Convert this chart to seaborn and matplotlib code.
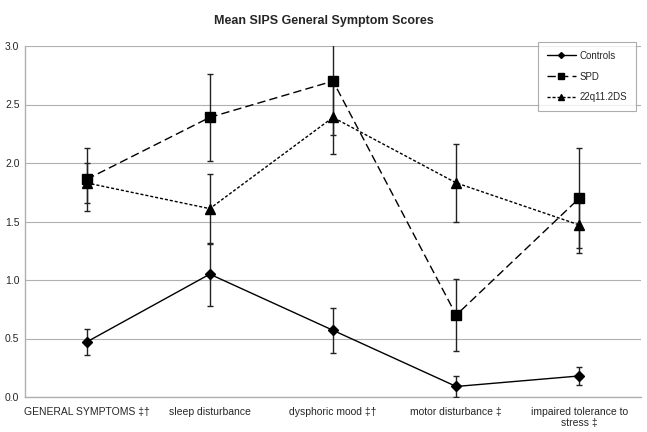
import seaborn as sns
import numpy as np
import pandas as pd
import matplotlib.pyplot as plt

categories = ['GENERAL SYMPTOMS \u2021\u2020', 'sleep disturbance', 'dysphoric mood \u2021\u2020',
              'motor disturbance \u2021', 'impaired tolerance to\nstress \u2021']
groups = ['Controls', 'SPD', '22q11.2DS']

controls_mean = [0.47, 1.05, 0.57, 0.09, 0.18]
controls_err = [0.11, 0.27, 0.19, 0.09, 0.08]
spd_mean = [1.86, 2.39, 2.70, 0.70, 1.70]
spd_err = [0.27, 0.37, 0.46, 0.31, 0.43]
q22_mean = [1.83, 1.61, 2.39, 1.83, 1.47]
q22_err = [0.17, 0.30, 0.31, 0.33, 0.24]

means = [controls_mean, spd_mean, q22_mean]
errs = [controls_err, spd_err, q22_err]

rows = []
for g, m, e in zip(groups, means, errs):
    for c, v, s in zip(categories, m, e):
        rows.append({'category': c, 'group': g, 'score': v, 'err': s})
df = pd.DataFrame(rows)

sns.set_style('white')
plt.rcParams['font.family'] = ['Liberation Sans', 'DejaVu Sans']

fig = plt.figure(figsize=(6.47, 4.32), dpi=100)
ax = fig.add_axes([25 / 647, 35 / 432, 616 / 647, 351 / 432])

styles = {
    'Controls': dict(marker='D', ms=5, dashes=(None, None), ls='-'),
    'SPD': dict(marker='s', ms=7, dashes=(6, 3), ls='--'),
    '22q11.2DS': dict(marker='^', ms=7, dashes=(2.2, 1.4), ls='--'),
}

sns.lineplot(data=df, x='category', y='score', hue='group', style='group',
             palette=['black'] * 3, markers={'Controls': 'D', 'SPD': 's', '22q11.2DS': '^'},
             dashes={'Controls': '', 'SPD': (6, 3), '22q11.2DS': (2.2, 1.4)},
             linewidth=1.0, markersize=0, ax=ax, legend=False, sort=False)

xpos = np.arange(len(categories))
handles = []
for g, m, e in zip(groups, means, errs):
    st = styles[g]
    ax.errorbar(xpos, m, yerr=e, fmt='none', ecolor='#222222', elinewidth=1.0,
                capsize=2.2, capthick=1.0, zorder=3)
    ax.plot(xpos, m, ls='none', marker=st['marker'], ms=st['ms'], color='black', zorder=4)
    h, = ax.plot([], [], color='black', lw=1.0, marker=st['marker'], ms=st['ms'] - 2,
                 ls=st['ls'])
    if st['dashes'][0] is not None:
        h.set_dashes(st['dashes'])
    handles.append(h)

ax.set_ylim(0, 3.0)
ax.set_xlim(-0.5, len(categories) - 0.5)
ax.set_yticks(np.arange(0, 3.01, 0.5))
ax.set_yticklabels([f'{v:.1f}' for v in np.arange(0, 3.01, 0.5)], fontsize=7.5)
ax.yaxis.grid(True, color='#b0b0b0', lw=0.8)
ax.set_axisbelow(True)

ax.set_xticks(xpos)
ax.set_xticklabels(categories, fontsize=7.5)
ax.tick_params(axis='x', length=0, pad=7)
ax.set_xticks(np.arange(0.5, len(categories) - 0.5), minor=True)
ax.tick_params(axis='x', which='minor', length=4, color='#b0b0b0', direction='out')
ax.tick_params(axis='y', length=0, pad=4)

ax.set_xlabel('')
ax.set_ylabel('')
for side in ['top', 'right']:
    ax.spines[side].set_visible(False)
for side in ['left', 'bottom']:
    ax.spines[side].set_color('#b0b0b0')
    ax.spines[side].set_linewidth(1.0)

leg = ax.legend(handles, groups, loc='upper right', bbox_to_anchor=(1.0, 1.025),
                fontsize=7, frameon=True, fancybox=False, handlelength=3.0,
                labelspacing=1.1, borderpad=0.9, handletextpad=0.4)
leg.get_frame().set_edgecolor('#999999')
leg.get_frame().set_linewidth(0.8)

fig.suptitle('Mean SIPS General Symptom Scores', fontsize=9, fontweight='bold', y=0.965)

fig.savefig('out.png', dpi=100)
